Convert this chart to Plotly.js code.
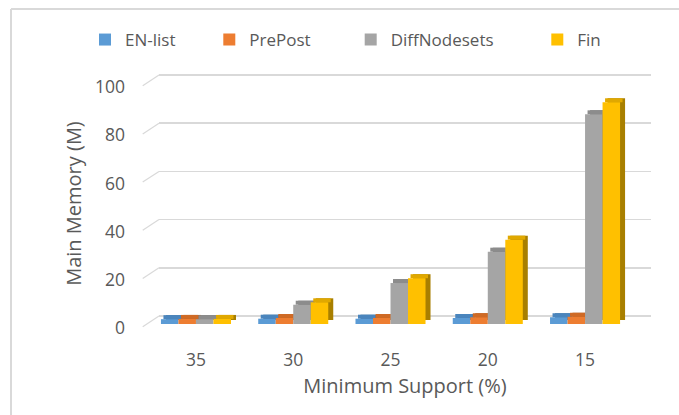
<!DOCTYPE html>
<html>
<head>
<meta charset="utf-8">
<script src="https://cdn.plot.ly/plotly-3.0.1.min.js"></script>
<style>html,body{margin:0;padding:0;background:#fff;}#chart{width:679px;height:415px;}</style>
</head>
<body>
<div id="chart"></div>
<script>
// ---- data ----
const categories = ['35', '30', '25', '20', '15'];
const enList = [2.0, 2.2, 2.2, 2.5, 2.8];
const prePost = [2.1, 2.5, 2.5, 2.8, 3.0];
const diffNodesets = [2.0, 8, 17, 30, 87];
const fin = [2.1, 9, 19, 35, 92];
const seriesNames = ['EN-list', 'PrePost', 'DiffNodesets', 'Fin'];
const yTicks = [0, 20, 40, 60, 80, 100];

// ---- style ----
const seriesValues = [enList, prePost, diffNodesets, fin];
const faceColors = ['#5b9bd5', '#ed7d31', '#a5a5a5', '#ffc000'];
const topColors = ['#4a85bd', '#cf6a25', '#8c8c8c', '#e0a800'];
const sideColors = ['#3d6e9c', '#a9561c', '#727272', '#a87f00'];
const legendX = [85, 209.3, 350.7, 537.3];
const legendIds = ['legend', 'legend2', 'legend3', 'legend4'];
const barW = 0.18;
const offsets = [-0.36, -0.18, 0, 0.18];
const dxSide = 0.0514, dxTop = 0.0257, depth = 1.66;
const textColor = '#595959';
const fontFam = '"Open Sans", Lato, sans-serif';

const traces = [];
seriesValues.forEach((vals, i) => {
  traces.push({type: 'bar', x: categories, y: vals, base: depth, offset: offsets[i] + dxSide, width: barW,
    marker: {color: sideColors[i], line: {width: 0}}, showlegend: false, hoverinfo: 'skip', xaxis: 'x', yaxis: 'y'});
  traces.push({type: 'bar', x: categories, y: vals.map(() => depth), base: vals, offset: offsets[i] + dxTop, width: barW,
    marker: {color: topColors[i], line: {width: 0}}, showlegend: false, hoverinfo: 'skip', xaxis: 'x', yaxis: 'y'});
  traces.push({type: 'bar', name: seriesNames[i], x: categories, y: vals, offset: offsets[i], width: barW,
    marker: {color: faceColors[i], line: {width: 0}}, legend: legendIds[i], xaxis: 'x', yaxis: 'y'});
});
traces.push({type: 'scatter', mode: 'none', x: categories, y: categories.map(() => null), xaxis: 'x', yaxis: 'y2', showlegend: false, hoverinfo: 'skip'});
traces.push({type: 'scatter', mode: 'none', x: categories, y: categories.map(() => null), xaxis: 'x', yaxis: 'y3', showlegend: false, hoverinfo: 'skip'});

const shapes = yTicks.map(v => ({type: 'line', xref: 'paper', yref: 'y2', x0: -0.0331, x1: 0, y0: v - 4.44, y1: v,
  line: {color: '#d9d9d9', width: 1.2}, layer: 'below'}));
shapes.push({type: 'line', xref: 'paper', yref: 'paper', x0: -0.3008, x1: 1.06, y0: 1.2452, y1: 1.2452, line: {color: '#d9d9d9', width: 2}});
shapes.push({type: 'line', xref: 'paper', yref: 'paper', x0: -0.3008, x1: -0.3008, y0: 1.2452, y1: -0.32, line: {color: '#d9d9d9', width: 2}});

const layout = {
  width: 679, height: 415,
  margin: {l: 159, r: 28, t: 73, b: 81},
  paper_bgcolor: '#fff', plot_bgcolor: 'rgba(0,0,0,0)',
  barmode: 'overlay',
  hovermode: false,
  font: {family: fontFam, color: textColor, size: 17},
  xaxis: {type: 'category', range: [-0.38, 4.678], showgrid: false, zeroline: false, showline: false, ticks: '',
    tickfont: {size: 17.5, color: textColor}, ticklabelstandoff: 13,
    title: {text: 'Minimum Support (%)', font: {size: 20, color: textColor}, standoff: 9}},
  yaxis: {range: [-4.15, 104.15], showgrid: false, zeroline: false, showticklabels: false, showline: false},
  yaxis2: {overlaying: 'y', range: [-7.47, 100.83], tickvals: yTicks, showgrid: true, gridcolor: '#d9d9d9', gridwidth: 1.5,
    zeroline: false, showticklabels: false, showline: false, ticks: ''},
  yaxis3: {overlaying: 'y', side: 'left', range: [-2.49, 105.81], tickvals: yTicks, showgrid: false, zeroline: false,
    showline: false, ticks: '', tickfont: {size: 17.5, color: textColor}, ticklabelstandoff: 33,
    title: {text: 'Main Memory (M)', font: {size: 20, color: textColor}, standoff: 7}},
  shapes: shapes
};
legendIds.forEach((id, i) => {
  layout[id] = {x: legendX[i] / 679, xref: 'container', xanchor: 'left', y: 1 - 40 / 415, yref: 'container', yanchor: 'middle',
    orientation: 'h', bgcolor: 'rgba(0,0,0,0)', font: {size: 17, color: textColor, family: fontFam}};
});

Plotly.newPlot('chart', traces, layout, {displayModeBar: false, staticPlot: true});
</script>
</body>
</html>
